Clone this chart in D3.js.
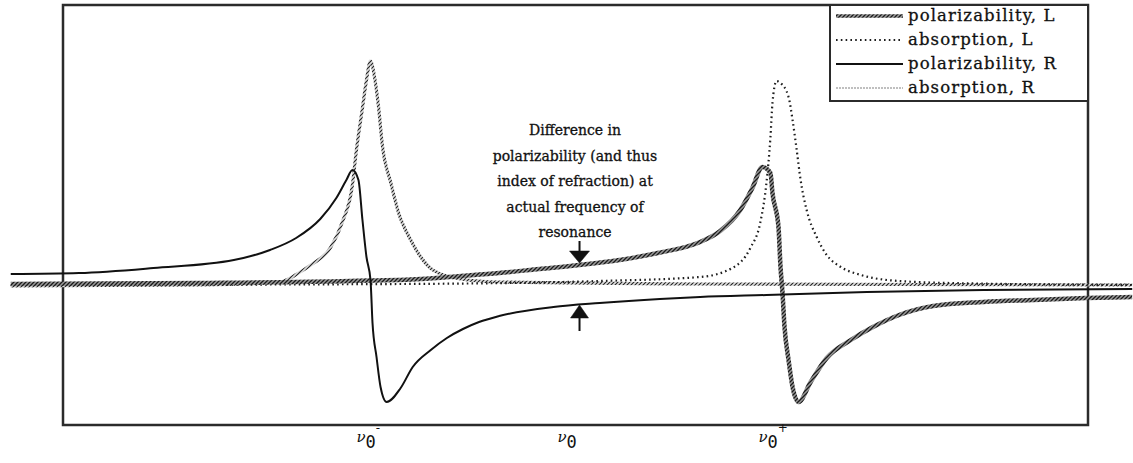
<!DOCTYPE html>
<html>
<head>
<meta charset="utf-8">
<script src="https://cdn.jsdelivr.net/npm/d3@7"></script>
<style>
  body { margin: 0; background: #fff; }
  svg { display: block; }
</style>
</head>
<body>
<svg id="chart" width="1133" height="463"></svg>
<script>
// Frequency offsets (units of the Zeeman splitting, nu0 = 0) and response values.
const freqPolR = [-2.76,-2.42,-2.05,-1.65,-1.47,-1.34,-1.22,-1.14,-1.09,-1.06,-1.03,-1.01,-0.99,-0.97,-0.96,-0.94,-0.92,-0.89,-0.82,-0.76,-0.67,-0.59,-0.51,-0.43,-0.33,-0.06,0.17,0.47,0.67,1.00,1.50,2.08,2.82];
const valPolR  = [0.11,0.12,0.17,0.25,0.35,0.47,0.66,0.87,1.05,1.15,1.05,0.65,0.28,0.05,-0.38,-0.72,-1.02,-1.17,-1.03,-0.82,-0.65,-0.53,-0.44,-0.37,-0.31,-0.22,-0.18,-0.14,-0.12,-0.10,-0.07,-0.05,-0.04];

const freqPolL = [-2.76,-1.82,-1.07,-0.72,-0.52,-0.33,-0.13,0.07,0.27,0.46,0.67,0.77,0.87,0.93,0.98,1.02,1.03,1.06,1.07,1.08,1.09,1.11,1.13,1.16,1.22,1.30,1.42,1.53,1.66,1.83,2.08,2.33,2.59,2.82];
const valPolL  = [0.01,0.02,0.04,0.06,0.09,0.12,0.16,0.20,0.25,0.32,0.43,0.54,0.75,0.97,1.18,1.12,0.92,0.58,0.18,-0.08,-0.42,-0.75,-1.02,-1.17,-0.97,-0.73,-0.55,-0.42,-0.30,-0.21,-0.17,-0.15,-0.13,-0.12];

const freqAbsR = [-2.76,-1.82,-1.42,-1.32,-1.26,-1.17,-1.11,-1.06,-1.04,-1.01,-0.99,-0.97,-0.95,-0.93,-0.91,-0.87,-0.83,-0.77,-0.72,-0.66,-0.52,-0.33,0.67,2.82];
const valAbsR  = [-0.01,0.00,0.03,0.13,0.21,0.37,0.63,1.00,1.35,1.77,2.05,2.24,2.08,1.78,1.38,1.03,0.72,0.45,0.28,0.15,0.06,0.03,0.01,0.00];

const freqAbsL = [-2.76,-0.82,0.17,0.67,0.83,0.92,0.97,1.00,1.02,1.03,1.05,1.07,1.11,1.13,1.15,1.17,1.20,1.25,1.30,1.37,1.47,1.60,1.91,2.82];
const valAbsL  = [0.00,0.01,0.04,0.08,0.17,0.37,0.63,1.02,1.48,1.82,2.04,2.02,1.88,1.65,1.36,1.05,0.75,0.48,0.30,0.18,0.10,0.05,0.02,0.00];

// Axis ticks: nu0-, nu0, nu0+
const tickFreqs = [-1, 0, 1];
const tickSups  = ["-", "", "+"];

const legendLabels = ["polarizability, L", "absorption, L", "polarizability, R", "absorption, R"];

const noteLines = ["Difference in", "polarizability (and thus", "index of refraction) at", "actual frequency of", "resonance"];
const arrowFreq = 0.07;
const arrowTipL = 0.22;
const arrowTipR = -0.20;

const svg = d3.select("#chart");
const frame = { left: 63, top: 5, right: 1088, bottom: 425 };

const x = d3.scaleLinear().domain([-2.5, 2.6]).range([frame.left, frame.right]);
const y = d3.scaleLinear().domain([-1.4, 2.8]).range([frame.bottom, frame.top]);

// Hatched strokes
const defs = svg.append("defs");
const hatch = defs.append("pattern").attr("id", "hatch")
  .attr("patternUnits", "userSpaceOnUse").attr("width", 4).attr("height", 4);
hatch.append("rect").attr("width", 4).attr("height", 4).attr("fill", "#9a9a9a");
hatch.append("path").attr("d", "M-1,1 l2,-2 M0,4 l4,-4 M3,5 l2,-2")
  .attr("stroke", "#1a1a1a").attr("stroke-width", 1.3);
const hatchLight = defs.append("pattern").attr("id", "hatchLight")
  .attr("patternUnits", "userSpaceOnUse").attr("width", 4).attr("height", 4);
hatchLight.append("rect").attr("width", 4).attr("height", 4).attr("fill", "#dcdcdc");
hatchLight.append("path").attr("d", "M-1,1 l2,-2 M0,4 l4,-4 M3,5 l2,-2")
  .attr("stroke", "#222").attr("stroke-width", 1.1);

// Plot frame
svg.append("rect")
  .attr("x", frame.left).attr("y", frame.top)
  .attr("width", frame.right - frame.left).attr("height", frame.bottom - frame.top)
  .attr("fill", "none").attr("stroke", "#2b2b2b").attr("stroke-width", 2.5);

const line = d3.line().x(d => x(d[0])).y(d => y(d[1])).curve(d3.curveMonotoneX);
const zip = (a, b) => a.map((v, i) => [v, b[i]]);

const series = [
  { key: "absR", data: zip(freqAbsR, valAbsR), stroke: "url(#hatchLight)", width: 3.2, dash: null },
  { key: "absL", data: zip(freqAbsL, valAbsL), stroke: "#1e1e1e", width: 2.2, dash: "1.6,3.2" },
  { key: "polL", data: zip(freqPolL, valPolL), stroke: "url(#hatch)", width: 4.5, dash: null },
  { key: "polR", data: zip(freqPolR, valPolR), stroke: "#111", width: 2, dash: null }
];

svg.append("g").selectAll("path").data(series).join("path")
  .attr("d", d => line(d.data))
  .attr("fill", "none")
  .attr("stroke", d => d.stroke)
  .attr("stroke-width", d => d.width)
  .attr("stroke-dasharray", d => d.dash)
  .attr("stroke-linejoin", "round");

// Arrows marking the polarizability difference at nu0
const ax = x(arrowFreq);
const arrows = svg.append("g").attr("fill", "#111").attr("stroke", "#111");
arrows.append("line").attr("x1", ax).attr("x2", ax)
  .attr("y1", y(arrowTipL) - 22).attr("y2", y(arrowTipL) - 10).attr("stroke-width", 2);
arrows.append("path")
  .attr("d", `M${ax - 10},${y(arrowTipL) - 12} L${ax + 10},${y(arrowTipL) - 12} L${ax},${y(arrowTipL)} Z`)
  .attr("stroke-width", 0.5);
arrows.append("line").attr("x1", ax).attr("x2", ax)
  .attr("y1", y(arrowTipR) + 10).attr("y2", y(arrowTipR) + 26).attr("stroke-width", 2);
arrows.append("path")
  .attr("d", `M${ax - 9},${y(arrowTipR) + 13} L${ax + 9},${y(arrowTipR) + 13} L${ax},${y(arrowTipR)} Z`)
  .attr("stroke-width", 0.5);

// Annotation text
svg.append("g").selectAll("text").data(noteLines).join("text")
  .attr("x", 575).attr("y", (d, i) => 135 + i * 25.5)
  .attr("text-anchor", "middle")
  .attr("font-family", "'DejaVu Serif', serif").attr("font-size", 14)
  .attr("fill", "#111").attr("stroke", "#111").attr("stroke-width", 0.3)
  .text(d => d);

// Frequency labels
const tickG = svg.append("g").selectAll("text").data(tickFreqs).join("text")
  .attr("x", d => x(d) - 8).attr("y", 442)
  .attr("fill", "#111");
tickG.append("tspan").attr("font-family", "'DejaVu Serif', serif").attr("font-style", "italic")
  .attr("font-size", 15).text("ν");
tickG.append("tspan").attr("font-family", "'DejaVu Sans Mono', monospace").attr("font-size", 17)
  .attr("dy", 6).text("0");
tickG.append("tspan").attr("font-family", "'DejaVu Sans', sans-serif").attr("font-size", 12)
  .attr("dy", -16).text((d, i) => tickSups[i]);

// Legend
const lg = { left: 830, top: 5, right: 1088, rowH: 24, first: 11 };
svg.append("rect")
  .attr("x", lg.left).attr("y", lg.top)
  .attr("width", lg.right - lg.left).attr("height", lg.first + lg.rowH * 3 + 13)
  .attr("fill", "#fff").attr("stroke", "#2b2b2b").attr("stroke-width", 2);

const legendStyles = [series[2], series[1], series[3], { stroke: "#aaa", width: 1.5, dash: "2,1" }];
const rows = svg.append("g").selectAll("g").data(legendLabels).join("g")
  .attr("transform", (d, i) => `translate(0,${lg.top + lg.first + i * lg.rowH})`);
rows.append("line")
  .attr("x1", lg.left + 6).attr("x2", 903)
  .attr("y1", 0).attr("y2", 0)
  .attr("stroke", (d, i) => legendStyles[i].stroke)
  .attr("stroke-width", (d, i) => Math.min(legendStyles[i].width, 3.5))
  .attr("stroke-dasharray", (d, i) => legendStyles[i].dash);
rows.append("text")
  .attr("x", 908).attr("y", 5)
  .attr("font-family", "'DejaVu Serif', serif").attr("font-size", 16.5)
  .attr("letter-spacing", 1.1)
  .attr("fill", "#111").attr("stroke", "#111").attr("stroke-width", 0.3)
  .text(d => d);
</script>
</body>
</html>
